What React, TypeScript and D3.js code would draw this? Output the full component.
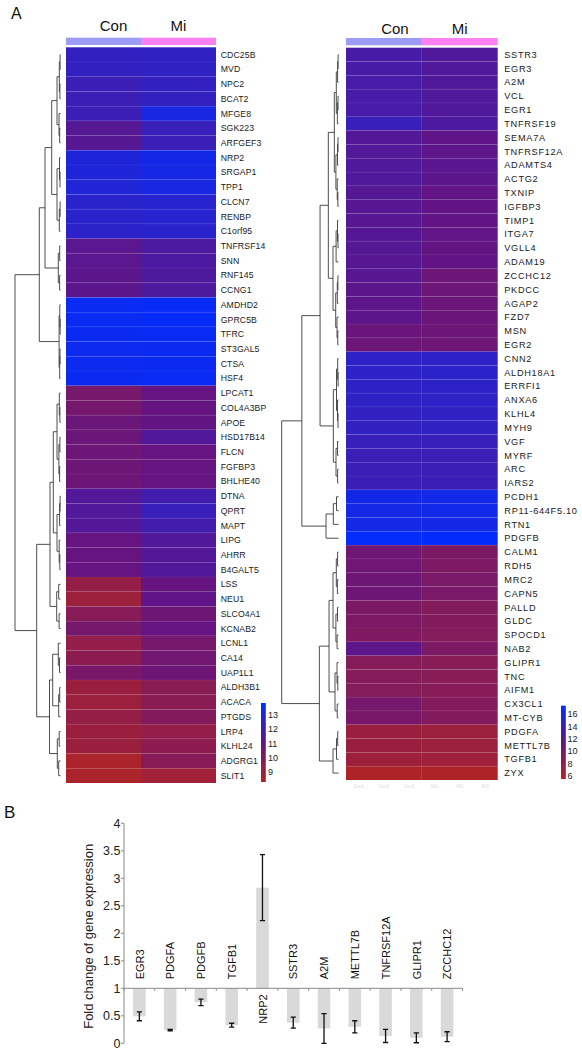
import React from "react";
import * as d3 from "d3";

// ---------- DATA ----------
const groups = ["Con", "Mi"];

const leftGenes = ["CDC25B","MVD","NPC2","BCAT2","MFGE8","SGK223","ARFGEF3","NRP2","SRGAP1","TPP1","CLCN7","RENBP","C1orf95","TNFRSF14","SNN","RNF145","CCNG1","AMDHD2","GPRC5B","TFRC","ST3GAL5","CTSA","HSF4","LPCAT1","COL4A3BP","APOE","HSD17B14","FLCN","FGFBP3","BHLHE40","DTNA","QPRT","MAPT","LIPG","AHRR","B4GALT5","LSS","NEU1","SLCO4A1","KCNAB2","LCNL1","CA14","UAP1L1","ALDH3B1","ACACA","PTGDS","LRP4","KLHL24","ADGRG1","SLIT1"];
const leftCon = [12.45,12.45,12.2,12.2,12.2,11.5,11.45,13.0,13.0,12.95,12.7,12.7,12.65,11.35,11.35,11.3,11.3,13.6,13.6,13.55,13.5,13.5,13.55,10.4,10.45,10.8,10.8,10.75,10.7,10.75,11.6,11.6,11.55,11.05,11.0,11.05,9.3,9.0,9.8,10.4,9.4,9.6,10.3,9.1,9.05,9.3,9.1,9.1,8.5,8.5];
const leftMi = [12.5,12.5,12.45,12.45,13.2,12.3,12.25,13.3,13.25,13.2,12.75,12.75,12.7,11.75,11.75,11.7,11.7,13.65,13.65,13.6,13.55,13.55,13.6,11.05,11.05,11.1,11.6,11.05,11.0,11.05,12.0,12.3,12.0,11.6,11.55,11.6,11.0,11.2,10.7,11.05,10.4,10.6,10.7,9.7,9.7,9.95,9.4,9.6,9.8,8.9];

const rightGenes = ["SSTR3","EGR3","A2M","VCL","EGR1","TNFRSF19","SEMA7A","TNFRSF12A","ADAMTS4","ACTG2","TXNIP","IGFBP3","TIMP1","ITGA7","VGLL4","ADAM19","ZCCHC12","PKDCC","AGAP2","FZD7","MSN","EGR2","CNN2","ALDH18A1","ERRFI1","ANXA6","KLHL4","MYH9","VGF","MYRF","ARC","IARS2","PCDH1","RP11-644F5.10","RTN1","PDGFB","CALM1","RDH5","MRC2","CAPN5","PALLD","GLDC","SPOCD1","NAB2","GLIPR1","TNC","AIFM1","CX3CL1","MT-CYB","PDGFA","METTL7B","TGFB1","ZYX"];
const rightCon = [13.1,13.1,13.2,13.2,13.2,14.0,12.4,12.5,12.6,12.6,12.3,12.2,12.2,12.3,12.3,12.2,12.1,11.9,11.8,11.8,11.0,10.8,14.7,14.7,14.6,14.6,14.4,14.4,14.0,13.9,13.9,13.9,16.2,16.1,16.1,17.1,10.5,10.5,10.6,10.6,9.6,9.5,9.4,11.8,8.8,8.8,8.9,10.0,9.8,7.2,7.2,7.0,5.7];
const rightMi = [12.6,12.6,12.6,12.6,12.6,12.8,11.7,11.8,12.0,11.9,11.5,11.5,11.5,11.6,11.4,11.5,10.7,10.8,10.9,10.9,10.7,10.7,14.7,14.8,14.7,14.6,14.5,14.5,14.0,13.9,13.9,13.9,16.3,16.3,16.2,17.2,9.6,9.6,9.7,9.7,9.0,9.0,8.9,9.6,8.6,8.6,8.7,9.0,9.0,7.1,7.1,6.9,5.7];

// colour bar ticks
const leftBarTicks = [9, 10, 11, 12, 13];
const leftBarDomain = [8.3, 13.84];
const rightBarTicks = [6, 8, 10, 12, 14, 16];
const rightBarDomain = [5.47, 17.35];
const heatColors = ["#b02424", "#641482", "#002dff"];

// dendrograms: [height, ...children], leaves are row indices
const leftTree: any = [45.5,
  [21.2,
    [15.5,
      [8.8,
        [3.5, [1.2, [0.4, 0, 1], [0.6, 2, 3]], [1.5, 4, [0.8, 5, 6]]],
        [3.5, [1.0, 7, [0.5, 8, 9]], [1.2, [0.4, 10, 11], 12]]],
      [2.2, [0.8, 13, 14], [0.9, 15, 16]]],
    [1.4, [0.7, 17, [0.4, 18, 19]], [0.8, [0.5, 20, 21], 22]]],
  [23.8,
    [10.5,
      [7.2,
        [3.5, [1.2, 23, [0.6, 24, 25]], [1.6, [0.6, 26, 27], [0.9, 28, 29]]],
        [3.5, [0.9, [0.4, 30, 31], 32], [1.3, 33, [0.7, 34, 35]]]],
      [3.8, [1.8, 36, 37], [1.4, 38, 39]]],
    [11,
      [7.8, [2.2, 40, [1.0, 41, 42]], [1.8, [0.8, 43, 44], 45]],
      [3.2, [1.3, 46, 47], [1.8, 48, 49]]]]];

const rightTree: any = [57,
  [36.8,
    [18.5,
      [10.2,
        [4.2, [2.2, [0.9, [0.4, 0, 1], 2], [1.1, [0.5, 3, 4], 5]], [2.6, [1.0, [0.5, 6, 7], 8], [1.3, 9, [0.6, 10, 11]]]],
        [5.5, [2.4, [1.0, 12, [0.5, 13, 14]], 15], [2.8, [1.2, [0.6, 16, 17], 18], [1.5, 19, [0.7, 20, 21]]]]],
      [5.2, [2.0, [0.8, 22, [0.4, 23, 24]], [1.0, 25, [0.5, 26, 27]]], [2.5, [1.0, 28, 29], [0.9, 30, 31]]]],
    [12.5, [5.2, [2.0, 32, 33], 34], 35]],
  [19.2,
    [9.5,
      [5.5, [2.2, [0.9, 36, 37], [1.1, 38, 39]], [2.6, [1.0, 40, 41], [1.4, 42, 43]]],
      [3.5, [1.5, 44, [0.7, 45, 46]], [1.3, 47, 48]]],
    [5.5, [2.0, [0.8, 49, 50], 51], 52]]];

// bar chart (panel B)
const barGenes = ["EGR3","PDGFA","PDGFB","TGFB1","NRP2","SSTR3","A2M","METTL7B","TNFRSF12A","GLIPR1","ZCCHC12"];
const barValues = [0.49, 0.24, 0.745, 0.33, 2.83, 0.375, 0.27, 0.3, 0.135, 0.1, 0.12];
const barErrors = [0.08, 0.012, 0.06, 0.035, 0.6, 0.1, 0.27, 0.11, 0.12, 0.09, 0.09];
const barTicks = [0, 0.5, 1, 1.5, 2, 2.5, 3, 3.5, 4];
const sampleLabels = ["Con1", "Con2", "Con3", "Mi1", "Mi2", "Mi3"];

// ---------- HELPERS ----------
const FONT = "'Liberation Sans', Arial, sans-serif";

function dendroPath(tree: any, yOf: (i: number) => number, xOf: (h: number) => number): string {
  let d = "";
  const walk = (t: any): { x: number; y: number } => {
    if (typeof t === "number") return { x: xOf(0), y: yOf(t) };
    const [h, ...kids] = t;
    const pts = kids.map(walk);
    const x = xOf(h);
    const ys = pts.map((p: any) => p.y);
    const y0 = Math.min(...ys), y1 = Math.max(...ys);
    d += `M${x},${y0}V${y1}`;
    pts.forEach((p: any) => { d += `M${x},${p.y}H${p.x}`; });
    return { x, y: (y0 + y1) / 2 };
  };
  walk(tree);
  return d;
}

type HMProps = {
  id: string; genes: string[]; con: number[]; mi: number[];
  x0: number; x1: number; y0: number; y1: number;
  domain: number[]; ticks: number[]; tree: any;
  leafX: number; rootX: number; labelX: number; labelSize: number; labelSpacing: number;
  headerY: number; titleY: number; conShift: number; barX: number; barY0: number; barY1: number; barLabelX: number;
  sampleRow?: boolean;
};

function Heatmap(p: HMProps) {
  const rows = d3.scaleBand<string>().domain(p.genes).range([p.y0, p.y1]);
  const cols = d3.scaleBand<string>().domain(groups).range([p.x0, p.x1]);
  const mid = (p.domain[0] + p.domain[1]) / 2;
  const color = d3.scaleLinear<string>().domain([p.domain[0], mid, p.domain[1]]).range(heatColors).interpolate(d3.interpolateRgb).clamp(true);
  const rootH = Array.isArray(p.tree) ? p.tree[0] : 0;
  const hx = d3.scaleLinear().domain([0, rootH]).range([p.leafX, p.rootX]);
  const yOf = (i: number) => (rows(p.genes[i]) as number) + rows.bandwidth() / 2;
  const path = dendroPath(p.tree, yOf, hx);
  const cb = d3.scaleLinear().domain(p.domain).range([p.barY1, p.barY0]);
  const stops = d3.range(0, 1.0001, 0.05);
  const sx = d3.scaleBand<string>().domain(sampleLabels).range([p.x0, p.x1]);
  return (
    <g>
      <defs>
        <linearGradient id={p.id + "grad"} x1="0" y1="1" x2="0" y2="0">
          {stops.map((s) => (
            <stop key={s} offset={s} stopColor={color(p.domain[0] + s * (p.domain[1] - p.domain[0]))} />
          ))}
        </linearGradient>
      </defs>
      {groups.map((g, gi) => (
        <rect key={g} x={cols(g)} y={p.headerY} width={cols.bandwidth()} height={7.3}
          fill={gi === 0 ? "#9c9cf6" : "#ff80f2"} />
      ))}
      {groups.map((g, gi) => (
        <text key={g} x={(cols(g) as number) + cols.bandwidth() / 2 + (gi === 0 ? p.conShift : 0)} y={p.titleY}
          textAnchor="middle" fontFamily={FONT} fontSize={15} fill="#111">{g}</text>
      ))}
      {p.genes.map((gene, i) => (
        <g key={gene}>
          <rect x={cols("Con")} y={rows(gene)} width={cols.bandwidth()} height={rows.bandwidth()}
            fill={color(p.con[i])} />
          <rect x={cols("Mi")} y={rows(gene)} width={cols.bandwidth()} height={rows.bandwidth()}
            fill={color(p.mi[i])} />
          {i > 0 && (
            <line x1={p.x0} x2={p.x1} y1={rows(gene)} y2={rows(gene)} stroke="#ffffff" strokeOpacity={0.08} strokeWidth={0.8} />
          )}
          <text x={p.labelX} y={yOf(i)} dy="0.35em" fontFamily={FONT} fontSize={p.labelSize}
            letterSpacing={p.labelSpacing} fill="#1a1a1a">{gene}</text>
        </g>
      ))}
      <path d={path} fill="none" stroke="#3a3a3a" strokeWidth={0.9} />
      <rect x={p.barX} y={p.barY0} width={4.8} height={p.barY1 - p.barY0} fill={`url(#${p.id}grad)`} />
      {p.ticks.map((t) => (
        <text key={t} x={p.barLabelX} y={cb(t)} dy="0.35em" fontFamily={FONT} fontSize={9} fill="#222">{t}</text>
      ))}
      {p.sampleRow && sampleLabels.map((s) => (
        <text key={s} x={(sx(s) as number) + sx.bandwidth() / 2} y={p.y1 + 8} textAnchor="middle"
          fontFamily={FONT} fontSize={4.5} fill="#dcdcdc">{s}</text>
      ))}
    </g>
  );
}

function BarPanel() {
  const y = d3.scaleLinear().domain([0, 4]).range([1043.3, 823.3]);
  const x = d3.scaleBand<string>().domain(barGenes).range([124, 462.5]);
  const bw = 12.6;
  const base = y(1);
  return (
    <g>
      <text x={4} y={818} fontFamily={FONT} fontSize={17} fill="#111">B</text>
      <line x1={124} x2={124} y1={y(4)} y2={y(0)} stroke="#8a8a8a" strokeWidth={1} />
      {barTicks.map((t) => (
        <g key={t}>
          <line x1={121} x2={124} y1={y(t)} y2={y(t)} stroke="#8a8a8a" strokeWidth={1} />
          <text x={120.5} y={y(t)} dy="0.36em" textAnchor="end" fontFamily={FONT} fontSize={12.5} fill="#222">{t}</text>
        </g>
      ))}
      <text transform={`translate(93,${(y(0) + y(4)) / 2 + 3}) rotate(-90)`} textAnchor="middle"
        fontFamily={FONT} fontSize={13} fill="#222">Fold change of gene expression</text>
      {barGenes.map((g, i) => {
        const cx = (x(g) as number) + x.bandwidth() / 2;
        const v = barValues[i];
        const e = barErrors[i];
        const top = Math.min(y(v), base);
        const h = Math.abs(y(v) - base);
        const above = v > 1;
        return (
          <g key={g}>
            <rect x={cx - bw / 2} y={top} width={bw} height={h} fill="#d9d9d9" />
            <path d={`M${cx},${y(v + e)}V${y(Math.max(0, v - e))}M${cx - 2.6},${y(v + e)}H${cx + 2.6}M${cx - 2.6},${y(Math.max(0, v - e))}H${cx + 2.6}`}
              stroke="#111" strokeWidth={1.3} fill="none" />
            <text transform={`translate(${cx + 4.2},${above ? base + 6 : base - 9}) rotate(-90)`}
              textAnchor={above ? "end" : "start"} fontFamily={FONT} fontSize={11} fill="#111">{g}</text>
          </g>
        );
      })}
      <line x1={124} x2={462.5} y1={base} y2={base} stroke="#8a8a8a" strokeWidth={1} />
      {d3.range(barGenes.length + 1).map((k) => (
        <line key={k} x1={124 + k * x.step()} x2={124 + k * x.step()} y1={base} y2={base + 2.5} stroke="#8a8a8a" strokeWidth={1} />
      ))}
    </g>
  );
}

export default function App() {
  return (
    <div style={{ position: "absolute", left: 0, top: 0 }}>
      <svg width={582} height={1050} style={{ display: "block", background: "#fff" }}>
        <text x={11} y={19} fontFamily={FONT} fontSize={16} fill="#111">A</text>
        <Heatmap id="L" genes={leftGenes} con={leftCon} mi={leftMi}
          x0={66} x1={216} y0={47.3} y1={783} domain={leftBarDomain} ticks={leftBarTicks} tree={leftTree}
          leafX={60.5} rootX={15} labelX={220.7} labelSize={8.7} labelSpacing={0.1}
          headerY={37.7} titleY={31} conShift={10} barX={261} barY0={703} barY1={782} barLabelX={268} />
        <Heatmap id="R" genes={rightGenes} con={rightCon} mi={rightMi}
          x0={346} x1={497.7} y0={47.7} y1={780} domain={rightBarDomain} ticks={rightBarTicks} tree={rightTree}
          leafX={338.5} rootX={281.7} labelX={504.3} labelSize={9.2} labelSpacing={0.7}
          headerY={38} titleY={33.5} conShift={11} barX={561} barY0={705.7} barY1={779} barLabelX={567.5} sampleRow />
        <BarPanel />
      </svg>
    </div>
  );
}
